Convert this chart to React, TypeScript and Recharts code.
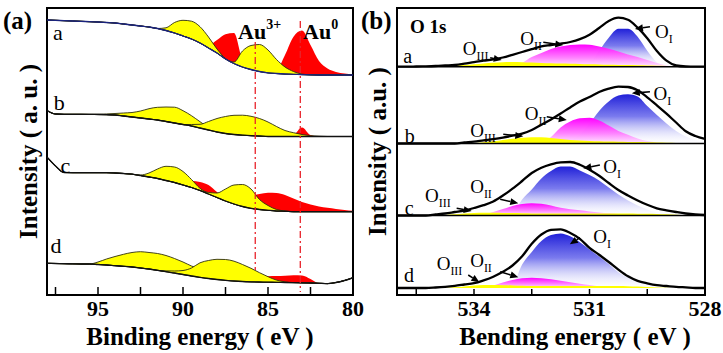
import React from "react";
import {
  ComposedChart,
  Area,
  Line,
  XAxis,
  YAxis,
  ReferenceLine,
  ReferenceArea,
  ReferenceDot,
} from "recharts";

const SERIF = "'Liberation Serif', 'Times New Roman', Times, serif";

type Peak = { from: number; h: number[] };

// ---------- (a) Au 4f, binding energy grid (eV), intensity in a.u. ----------
const BE_A = [
  98, 97.5, 97, 96.5, 96, 95.5, 95, 94.5, 94, 93.5, 93, 92.5, 92, 91.5, 91, 90.5, 90, 89.5, 89,
  88.5, 88, 87.5, 87, 86.5, 86, 85.5, 85, 84.5, 84, 83.5, 83, 82.5, 82, 81.5, 81, 80.5, 80,
];
const TICKS_A = [97.5, 95, 92.5, 90, 87.5, 85, 82.5, 80];
const LABELS_A = [95, 90, 85, 80];

// backgrounds (stacked intensity)
const BG_A_a = [
  27.5, 27.47, 27.43, 27.4, 27.37, 27.33, 27.3, 27.25, 27.2, 27.1, 27.0, 26.9, 26.8, 26.65, 26.45,
  26.2, 25.9, 25.6, 25.2, 24.7, 24.2, 23.6, 23.15, 22.8, 22.55, 22.35, 22.22, 22.15, 22.1, 22.07,
  22.04, 22.02, 22.0, 22.0, 22.0, 22.0, 22.0,
];
const BG_A_b = [
  18.45, 18.1, 18.07, 18.07, 18.07, 18.06, 18.05, 18.03, 18.0, 17.9, 17.8, 17.7, 17.6, 17.5, 17.35,
  17.2, 17.05, 16.9, 16.7, 16.5, 16.3, 16.15, 16.05, 15.98, 15.93, 15.9, 15.85, 15.85, 15.85, 15.85,
  15.85, 15.85, 15.85, 15.85, 15.85, 15.85, 15.85,
];
const BG_A_c = [
  13.8, 12.9, 12.25, 12.23, 12.23, 12.23, 12.23, 12.23, 12.2, 12.15, 12.08, 11.95, 11.8, 11.65, 11.45,
  11.25, 11.0, 10.75, 10.45, 10.1, 9.75, 9.4, 9.1, 8.85, 8.67, 8.55, 8.47, 8.4, 8.37, 8.33, 8.33,
  8.33, 8.33, 8.33, 8.33, 8.33, 8.33,
];
const BG_A_d = [
  3.17, 3.15, 3.13, 3.12, 3.1, 3.1, 3.05, 3.0, 2.93, 2.87, 2.8, 2.7, 2.6, 2.47, 2.33, 2.2, 2.05, 1.9,
  1.77, 1.65, 1.55, 1.47, 1.4, 1.35, 1.32, 1.3, 1.28, 1.27, 1.25, 1.24, 1.22, 1.2, 1.17, 1.14, 1.25,
  1.45, 1.73,
];

// fitted components, height above background
const A_a_Y1: Peak = { from: 91.5, h: [0, 0.27, 1.05, 1.57, 1.78, 1.63, 1.1, 0.4, 0.05, 0] };
const A_a_R1: Peak = { from: 89, h: [0, 0.3, 1.3, 2.47, 3.05, 0.7, 0] };
const A_a_Y2: Peak = { from: 87.5, h: [0, 0.15, 1.6, 2.4, 2.7, 2.28, 1.4, 0.7, 0.28, 0.05, 0] };
const A_a_R2: Peak = { from: 85, h: [0, 0.3, 1.9, 3.76, 4.4, 2.98, 1.4, 0.65, 0.3, 0.15, 0.05] };

const A_b_Y1: Peak = {
  from: 95.5,
  h: [0, 0.03, 0.08, 0.15, 0.3, 0.45, 0.7, 1.03, 1.27, 1.45, 1.58, 1.38, 1.03, 0.63, 0.27, 0.1, 0],
};
const A_b_Y2: Peak = {
  from: 90,
  h: [0, 0.15, 0.37, 0.85, 1.35, 1.7, 1.92, 2.0, 1.94, 1.75, 1.45, 1.0, 0.6, 0.38, 0.2, 0.08, 0.03, 0],
};
const A_b_R1: Peak = { from: 88, h: [0, 0.05, 0.25, 0.1, 0] };
const A_b_R2: Peak = { from: 84, h: [0, 0.15, 0.9, 0.15, 0] };

const A_c_Y1: Peak = { from: 93, h: [0, 0.05, 0.4, 0.95, 1.42, 1.55, 1.35, 0.8, 0.22, 0.05, 0] };
const A_c_R1: Peak = { from: 91, h: [0, 0.2, 0.4, 0.68, 0.85, 0.9, 0.55, 0.2, 0.05, 0] };
const A_c_Y2: Peak = { from: 89, h: [0, 0.15, 0.45, 1.2, 1.9, 2.2, 1.93, 1.0, 0.48, 0.15, 0.03, 0] };
const A_c_R2: Peak = {
  from: 87.5,
  h: [0, 0.2, 0.6, 1.2, 1.55, 1.75, 1.8, 1.63, 1.32, 0.97, 0.72, 0.52, 0.39, 0.27, 0.17, 0.1],
};

const A_d_Y1: Peak = {
  from: 95.5,
  h: [0, 0.25, 0.6, 0.92, 1.2, 1.45, 1.63, 1.65, 1.68, 1.62, 1.45, 1.25, 1.0, 0.83, 0.65, 0.4, 0.28, 0.12, 0.04, 0],
};
const A_d_Y2: Peak = {
  from: 91.5,
  h: [0, 0.08, 0.2, 0.4, 0.8, 1.45, 1.8, 2.02, 2.08, 1.98, 1.7, 1.35, 0.93, 0.55, 0.22, 0.07, 0],
};
const A_d_R1: Peak = { from: 87, h: [0, 0.15, 0.3, 0.55, 0.6, 0.63, 0.68, 0.73, 0.73, 0.4, 0] };

const AU_LINES = [
  { be: 85.75, top: 25.3, bottom: 2.5 },
  { be: 83.1, top: 27.4, bottom: 0.3 },
];

// ---------- (b) O 1s ----------
const BE_B = [
  536, 535.75, 535.5, 535.25, 535, 534.75, 534.5, 534.25, 534, 533.75, 533.5, 533.25, 533, 532.75,
  532.5, 532.25, 532, 531.75, 531.5, 531.25, 531, 530.75, 530.5, 530.25, 530, 529.75, 529.5, 529.25,
  529, 528.75, 528.5, 528.25, 528,
];
const TICKS_B = [535.5, 534, 532.5, 531, 529.5, 528];
const LABELS_B = [534, 531, 528];
const BASE_B = [22.83, 15.15, 7.95, 0.7];

const ENV_B_a = [
  0, 0, 0.02, 0.04, 0.07, 0.12, 0.17, 0.3, 0.46, 0.6, 0.74, 0.92, 1.19, 1.47, 1.75, 2.04, 2.17, 2.3,
  2.47, 2.75, 3.2, 3.87, 4.57, 4.9, 4.7, 3.9, 2.85, 1.57, 0.6, 0.12, 0.02, 0, 0,
];
const ENV_B_b = [
  0, 0, 0, 0, 0, 0, 0, 0.1, 0.19, 0.32, 0.44, 0.59, 0.78, 0.99, 1.35, 1.88, 2.41, 3.0, 3.61, 4.19,
  4.65, 5.15, 5.49, 5.68, 5.65, 5.32, 4.62, 3.82, 2.98, 2.1, 1.23, 0.75, 0.45,
];
const ENV_B_c = [
  0, 0, 0, 0, 0.1, 0.2, 0.35, 0.5, 0.75, 1.03, 1.4, 2.0, 2.68, 3.45, 4.25, 4.78, 5.12, 5.32, 5.35,
  5.08, 4.58, 3.98, 3.25, 2.55, 2.0, 1.5, 1.07, 0.72, 0.52, 0.35, 0.2, 0.1, 0.05,
];
const ENV_B_d = [
  0, 0, 0, 0, 0.05, 0.12, 0.22, 0.35, 0.48, 0.77, 1.13, 1.62, 2.25, 3.17, 4.42, 5.35, 5.82, 5.87, 5.5,
  4.92, 4.02, 3.33, 2.6, 1.84, 1.17, 0.72, 0.47, 0.28, 0.2, 0.12, 0.06, 0, 0,
];

const OI_a: Peak = { from: 531.25, h: [0, 0.3, 1.6, 2.9, 3.8, 3.8, 3.0, 1.6, 0.45, 0.05, 0] };
const OII_a: Peak = {
  from: 533.5,
  h: [0, 0.02, 0.1, 0.4, 0.97, 1.37, 1.77, 2.02, 2.17, 2.23, 2.2, 2.02, 1.8, 1.52, 1.22, 0.97, 0.67, 0.37, 0.12, 0.02, 0],
};
const OIII_a: Peak = {
  from: 535,
  h: [0, 0.05, 0.1, 0.17, 0.25, 0.33, 0.4, 0.45, 0.47, 0.45, 0.42, 0.38, 0.35, 0.32, 0.3, 0.28, 0.25, 0.23, 0.2, 0.18, 0.16, 0.14, 0.12, 0.1, 0.08, 0.05, 0.02, 0],
};

const OI_b: Peak = {
  from: 532,
  h: [0, 0.08, 0.3, 0.9, 2.0, 3.25, 4.2, 4.8, 4.92, 4.7, 3.75, 2.85, 2.0, 1.25, 0.7, 0.35, 0.18],
};
const OII_b: Peak = {
  from: 532.75,
  h: [0, 0.03, 0.15, 0.65, 1.6, 2.2, 2.52, 2.57, 2.3, 1.8, 1.25, 0.87, 0.5, 0.25, 0.1, 0.03, 0],
};
const OIII_b: Peak = {
  from: 534.25,
  h: [0, 0.05, 0.12, 0.22, 0.35, 0.47, 0.57, 0.63, 0.62, 0.55, 0.45, 0.36, 0.3, 0.26, 0.23, 0.2, 0.18, 0.16, 0.14, 0.12, 0.1, 0.08, 0.06, 0.04, 0.02, 0],
};

const OI_c: Peak = {
  from: 533.5,
  h: [0, 0.05, 0.2, 1.6, 2.6, 3.7, 4.45, 4.9, 4.9, 4.5, 4.05, 3.5, 2.8, 2.1, 1.5, 1.0, 0.6, 0.3, 0.12, 0.04, 0],
};
const OII_c: Peak = {
  from: 534.25,
  h: [0, 0.02, 0.1, 0.35, 0.65, 0.95, 1.15, 1.23, 1.17, 1.0, 0.77, 0.62, 0.52, 0.4, 0.3, 0.22, 0.15, 0.1, 0.05, 0.02, 0],
};
const OIII_c: Peak = {
  from: 535,
  h: [0, 0.05, 0.12, 0.2, 0.25, 0.28, 0.28, 0.26, 0.24, 0.22, 0.21, 0.2, 0.2, 0.2, 0.2, 0.2, 0.2, 0.2, 0.2, 0.2, 0.19, 0.18, 0.17, 0.15, 0.12, 0.08, 0.04, 0],
};

const OI_d: Peak = {
  from: 533.5,
  h: [0, 0.05, 0.3, 2.35, 3.6, 4.7, 5.3, 5.46, 5.17, 4.57, 3.84, 3.15, 2.4, 1.58, 1.05, 0.67, 0.4, 0.23, 0.15, 0.08, 0.03, 0],
};
const OII_d: Peak = {
  from: 534,
  h: [0, 0.05, 0.25, 0.55, 0.8, 0.97, 1.03, 0.98, 0.87, 0.72, 0.58, 0.43, 0.3, 0.18, 0.1, 0.05, 0.02, 0],
};
const OIII_d: Peak = {
  from: 535,
  h: [0, 0.03, 0.08, 0.15, 0.25, 0.3, 0.3, 0.28, 0.25, 0.22, 0.2, 0.2, 0.2, 0.2, 0.2, 0.2, 0.2, 0.2, 0.2, 0.2, 0.18, 0.15, 0.1, 0.05, 0.02, 0],
};

// annotation anchors (eV, a.u.)
const O_LABELS = [
  { sub: "III", at: [534.29, 24.0] }, { sub: "II", at: [532.8, 25.0] }, { sub: "I", at: [529.3, 25.7] },
  { sub: "III", at: [534.1, 15.83] }, { sub: "II", at: [532.68, 17.5] }, { sub: "I", at: [529.34, 19.5] },
  { sub: "III", at: [535.27, 9.33] }, { sub: "II", at: [534.1, 10.17] }, { sub: "I", at: [530.64, 12.17] },
  { sub: "III", at: [534.97, 2.5] }, { sub: "II", at: [534.1, 2.83] }, { sub: "I", at: [530.9, 5.17] },
];
const O_ARROWS = [
  [533.58, 23.73, 533.28, 23.5], [532.2, 25.27, 531.68, 25.0], [529.43, 26.83, 529.82, 26.6],
  [533.24, 16.07, 532.72, 15.87], [532.11, 17.83, 531.59, 17.5], [529.43, 20.33, 529.9, 20.17],
  [534.45, 8.67, 534.06, 8.4], [533.32, 9.57, 532.85, 9.17], [530.73, 13.0, 531.16, 12.67],
  [534.15, 2.0, 533.86, 1.27], [533.32, 2.33, 532.85, 1.77], [531.25, 5.73, 531.51, 5.07],
];

// ---------- build tables ----------
function heightAt(p: Peak, be: number, step: number) {
  const i = Math.round((p.from - be) / step);
  return i >= 0 && i < p.h.length ? p.h[i] : 0;
}

const SPEC_A = [
  { id: "a", bg: BG_A_a, line: "#1a237e", red: [A_a_R1, A_a_R2], yellow: [A_a_Y1, A_a_Y2], letter: [97.65, 25.5] },
  { id: "b", bg: BG_A_b, line: "#111", red: [A_b_R1, A_b_R2], yellow: [A_b_Y1, A_b_Y2], letter: [97.6, 18.5] },
  { id: "c", bg: BG_A_c, line: "#111", red: [A_c_R1, A_c_R2], yellow: [A_c_Y1, A_c_Y2], letter: [97.2, 12.2] },
  { id: "d", bg: BG_A_d, line: "#111", red: [A_d_R1], yellow: [A_d_Y1, A_d_Y2], letter: [97.8, 4.2] },
];

const dataA = BE_A.map((be, i) => {
  const row: Record<string, any> = { be };
  SPEC_A.forEach((s) => {
    const b = s.bg[i];
    row[`${s.id}_bg`] = b;
    s.red.forEach((p, k) => (row[`${s.id}_r${k}`] = [b, b + heightAt(p, be, 0.5)]));
    s.yellow.forEach((p, k) => (row[`${s.id}_y${k}`] = [b, b + heightAt(p, be, 0.5)]));
  });
  return row;
});

const SPEC_B = [
  { id: "a", base: BASE_B[0], env: ENV_B_a, o1: OI_a, o2: OII_a, o3: OIII_a, letter: [535.84, 23.2] },
  { id: "b", base: BASE_B[1], env: ENV_B_b, o1: OI_b, o2: OII_b, o3: OIII_b, letter: [535.8, 15.25] },
  { id: "c", base: BASE_B[2], env: ENV_B_c, o1: OI_c, o2: OII_c, o3: OIII_c, letter: [535.8, 8.0] },
  { id: "d", base: BASE_B[3], env: ENV_B_d, o1: OI_d, o2: OII_d, o3: OIII_d, letter: [535.82, 1.3] },
];

const dataB = BE_B.map((be, i) => {
  const row: Record<string, any> = { be };
  SPEC_B.forEach((s) => {
    const b = s.base;
    row[`${s.id}_env`] = b + s.env[i];
    row[`${s.id}_o1`] = [b, b + heightAt(s.o1, be, 0.25)];
    row[`${s.id}_o2`] = [b, b + heightAt(s.o2, be, 0.25)];
    row[`${s.id}_o3`] = [b, b + heightAt(s.o3, be, 0.25)];
  });
  return row;
});

// ---------- small drawing helpers ----------
function Arrow(p: any) {
  const { x1, y1, x2, y2 } = p;
  const a = Math.atan2(y2 - y1, x2 - x1);
  const len = 8;
  const half = 3.5;
  const bx = x2 - len * Math.cos(a);
  const by = y2 - len * Math.sin(a);
  const nx = -Math.sin(a) * half;
  const ny = Math.cos(a) * half;
  return (
    <g>
      <line x1={x1} y1={y1} x2={bx} y2={by} stroke="#000" strokeWidth={1.6} />
      <polygon points={`${x2},${y2} ${bx + nx},${by + ny} ${bx - nx},${by - ny}`} fill="#000" />
    </g>
  );
}

const oText = (sub: string) => (p: any) => (
  <text x={p.cx} y={p.cy} fontFamily={SERIF} fontSize={19} fill="#000">
    O
    <tspan fontSize={12} dy={5}>
      {sub}
    </tspan>
  </text>
);

const plainText = (t: string, size: number, bold = false) => (p: any) => (
  <text x={p.cx} y={p.cy} fontFamily={SERIF} fontSize={size} fontWeight={bold ? 700 : 400} fill="#000">
    {t}
  </text>
);

const auText = (sup: string) => (p: any) => (
  <text x={p.cx} y={p.cy} fontFamily={SERIF} fontSize={22} fontWeight={700} fill="#000">
    Au
    <tspan fontSize={14} dy={-10}>
      {sup}
    </tspan>
  </text>
);

// inward tick mark on the bottom frame, number only for the labelled values
const makeTick = (labels: number[], len: number) => (p: any) => {
  const { x, y, payload } = p;
  const v = payload.value;
  return (
    <g>
      <line x1={x} y1={y} x2={x} y2={y - len} stroke="#000" strokeWidth={1.5} />
      {labels.includes(v) && (
        <text x={x} y={y + 21} textAnchor="middle" fontFamily={SERIF} fontSize={22} fontWeight={700} fill="#000">
          {v}
        </text>
      )}
    </g>
  );
};

const titleProps = { fill: "#000", fontSize: 25, fontWeight: 700, fontFamily: SERIF };

function PanelA() {
  return (
    <ComposedChart width={372} height={353} data={dataA} margin={{ top: 8, right: 19, bottom: 0, left: 0 }}>
      <YAxis
        type="number"
        domain={[0, 28.7]}
        allowDataOverflow
        width={47}
        tick={false}
        tickLine={false}
        axisLine={false}
        label={{ value: "Intensity ( a. u. )", angle: -90, position: "center", dx: 5, ...titleProps }}
      />
      <XAxis
        type="number"
        dataKey="be"
        domain={[80, 98]}
        allowDataOverflow
        reversed
        ticks={TICKS_A}
        interval={0}
        tickLine={false}
        tickSize={0}
        tickMargin={0}
        axisLine={false}
        height={58}
        tick={makeTick(LABELS_A, 8)}
        label={{ value: "Binding energy ( eV )", position: "insideBottom", offset: 8, ...titleProps }}
      />
      {SPEC_A.map((s) => (
        <React.Fragment key={s.id}>
          {s.red.map((_, k) => (
            <Area
              key={`r${k}`}
              dataKey={`${s.id}_r${k}`}
              type="monotone"
              fill="#ff0000"
              fillOpacity={1}
              stroke="none"
              dot={false}
              activeDot={false}
              isAnimationActive={false}
            />
          ))}
          {s.yellow.map((_, k) => (
            <Area
              key={`y${k}`}
              dataKey={`${s.id}_y${k}`}
              type="monotone"
              fill="#ffff00"
              fillOpacity={1}
              stroke="#2e2e10"
              strokeWidth={0.9}
              dot={false}
              activeDot={false}
              isAnimationActive={false}
            />
          ))}
          <Line
            dataKey={`${s.id}_bg`}
            type="monotone"
            stroke={s.line}
            strokeWidth={1.3}
            dot={false}
            activeDot={false}
            isAnimationActive={false}
          />
        </React.Fragment>
      ))}
      {AU_LINES.map((l) => (
        <ReferenceLine
          key={l.be}
          segment={[
            { x: l.be, y: l.top },
            { x: l.be, y: l.bottom },
          ]}
          stroke="#e8232b"
          strokeWidth={1.3}
          strokeDasharray="7 3 2 3"
        />
      ))}
      <ReferenceArea x1={80} x2={98} y1={0} y2={28.7} fill="none" stroke="#000" strokeWidth={2} />
      <ReferenceDot x={86.76} y={25.6} r={0} ifOverflow="visible" shape={auText("3+")} />
      <ReferenceDot x={82.94} y={25.6} r={0} ifOverflow="visible" shape={auText("0")} />
      {SPEC_A.map((s) => (
        <ReferenceDot
          key={`l${s.id}`}
          x={s.letter[0]}
          y={s.letter[1]}
          r={0}
          ifOverflow="visible"
          shape={plainText(s.id, 22)}
        />
      ))}
    </ComposedChart>
  );
}

function PanelB() {
  return (
    <ComposedChart width={363} height={353} data={dataB} margin={{ top: 8, right: 18, bottom: 0, left: 0 }}>
      <defs>
        <linearGradient id="gBlue" x1="0" y1="0" x2="0" y2="1">
          <stop offset="0" stopColor="#2020d8" stopOpacity={1} />
          <stop offset="0.45" stopColor="#6c6cec" stopOpacity={0.9} />
          <stop offset="1" stopColor="#ffffff" stopOpacity={0.2} />
        </linearGradient>
        <linearGradient id="gPink" x1="0" y1="0" x2="0" y2="1">
          <stop offset="0" stopColor="#ff00ff" stopOpacity={1} />
          <stop offset="0.6" stopColor="#ff7cff" stopOpacity={0.95} />
          <stop offset="1" stopColor="#ffe4ff" stopOpacity={0.9} />
        </linearGradient>
      </defs>
      <YAxis
        type="number"
        domain={[0, 28.7]}
        allowDataOverflow
        width={37}
        tick={false}
        tickLine={false}
        axisLine={false}
        label={{ value: "Intensity ( a.u. )", angle: -90, position: "center", dx: -1, ...titleProps }}
      />
      <XAxis
        type="number"
        dataKey="be"
        domain={[528, 536]}
        allowDataOverflow
        reversed
        ticks={TICKS_B}
        interval={0}
        tickLine={false}
        tickSize={0}
        tickMargin={0}
        axisLine={false}
        height={58}
        tick={makeTick(LABELS_B, 6)}
        label={{ value: "Bending energy ( eV )", position: "insideBottom", offset: 8, dx: 24, ...titleProps }}
      />
      {SPEC_B.map((s) => (
        <React.Fragment key={s.id}>
          <Area
            dataKey={`${s.id}_o1`}
            type="monotone"
            fill="url(#gBlue)"
            fillOpacity={1}
            stroke="none"
            dot={false}
            activeDot={false}
            isAnimationActive={false}
          />
          <Area
            dataKey={`${s.id}_o2`}
            type="monotone"
            fill="url(#gPink)"
            fillOpacity={1}
            stroke="none"
            dot={false}
            activeDot={false}
            isAnimationActive={false}
          />
          <Area
            dataKey={`${s.id}_o3`}
            type="monotone"
            fill="#ffff00"
            fillOpacity={1}
            stroke="none"
            dot={false}
            activeDot={false}
            isAnimationActive={false}
          />
          <Line
            dataKey={`${s.id}_env`}
            type="monotone"
            stroke="#000"
            strokeWidth={2.3}
            dot={false}
            activeDot={false}
            isAnimationActive={false}
          />
        </React.Fragment>
      ))}
      {BASE_B.slice(0, 3).map((y) => (
        <ReferenceLine key={y} y={y} stroke="#000" strokeWidth={1.6} />
      ))}
      <ReferenceArea x1={528} x2={536} y1={0} y2={28.7} fill="none" stroke="#000" strokeWidth={2} />
      {O_ARROWS.map((a, i) => (
        <ReferenceLine
          key={`ar${i}`}
          segment={[
            { x: a[0], y: a[1] },
            { x: a[2], y: a[3] },
          ]}
          ifOverflow="visible"
          shape={Arrow}
        />
      ))}
      {O_LABELS.map((l, i) => (
        <ReferenceDot key={`ol${i}`} x={l.at[0]} y={l.at[1]} r={0} ifOverflow="visible" shape={oText(l.sub)} />
      ))}
      <ReferenceDot x={535.66} y={26.2} r={0} ifOverflow="visible" shape={plainText("O 1s", 19, true)} />
      {SPEC_B.map((s) => (
        <ReferenceDot
          key={`l${s.id}`}
          x={s.letter[0]}
          y={s.letter[1]}
          r={0}
          ifOverflow="visible"
          shape={plainText(s.id, 20)}
        />
      ))}
    </ComposedChart>
  );
}

export default function App() {
  const panelLabel: React.CSSProperties = {
    position: "absolute",
    top: 8,
    fontFamily: SERIF,
    fontSize: 25,
    fontWeight: 700,
    lineHeight: "25px",
    color: "#000",
  };
  return (
    <div
      style={{
        position: "absolute",
        left: 0,
        top: 0,
        width: 723,
        height: 353,
        background: "#fff",
        overflow: "hidden",
      }}
    >
      <div style={{ position: "absolute", left: 0, top: 0 }}>
        <PanelA />
      </div>
      <div style={{ position: "absolute", left: 360, top: 0 }}>
        <PanelB />
      </div>
      <div style={{ ...panelLabel, left: 3 }}>(a)</div>
      <div style={{ ...panelLabel, left: 361 }}>(b)</div>
    </div>
  );
}
